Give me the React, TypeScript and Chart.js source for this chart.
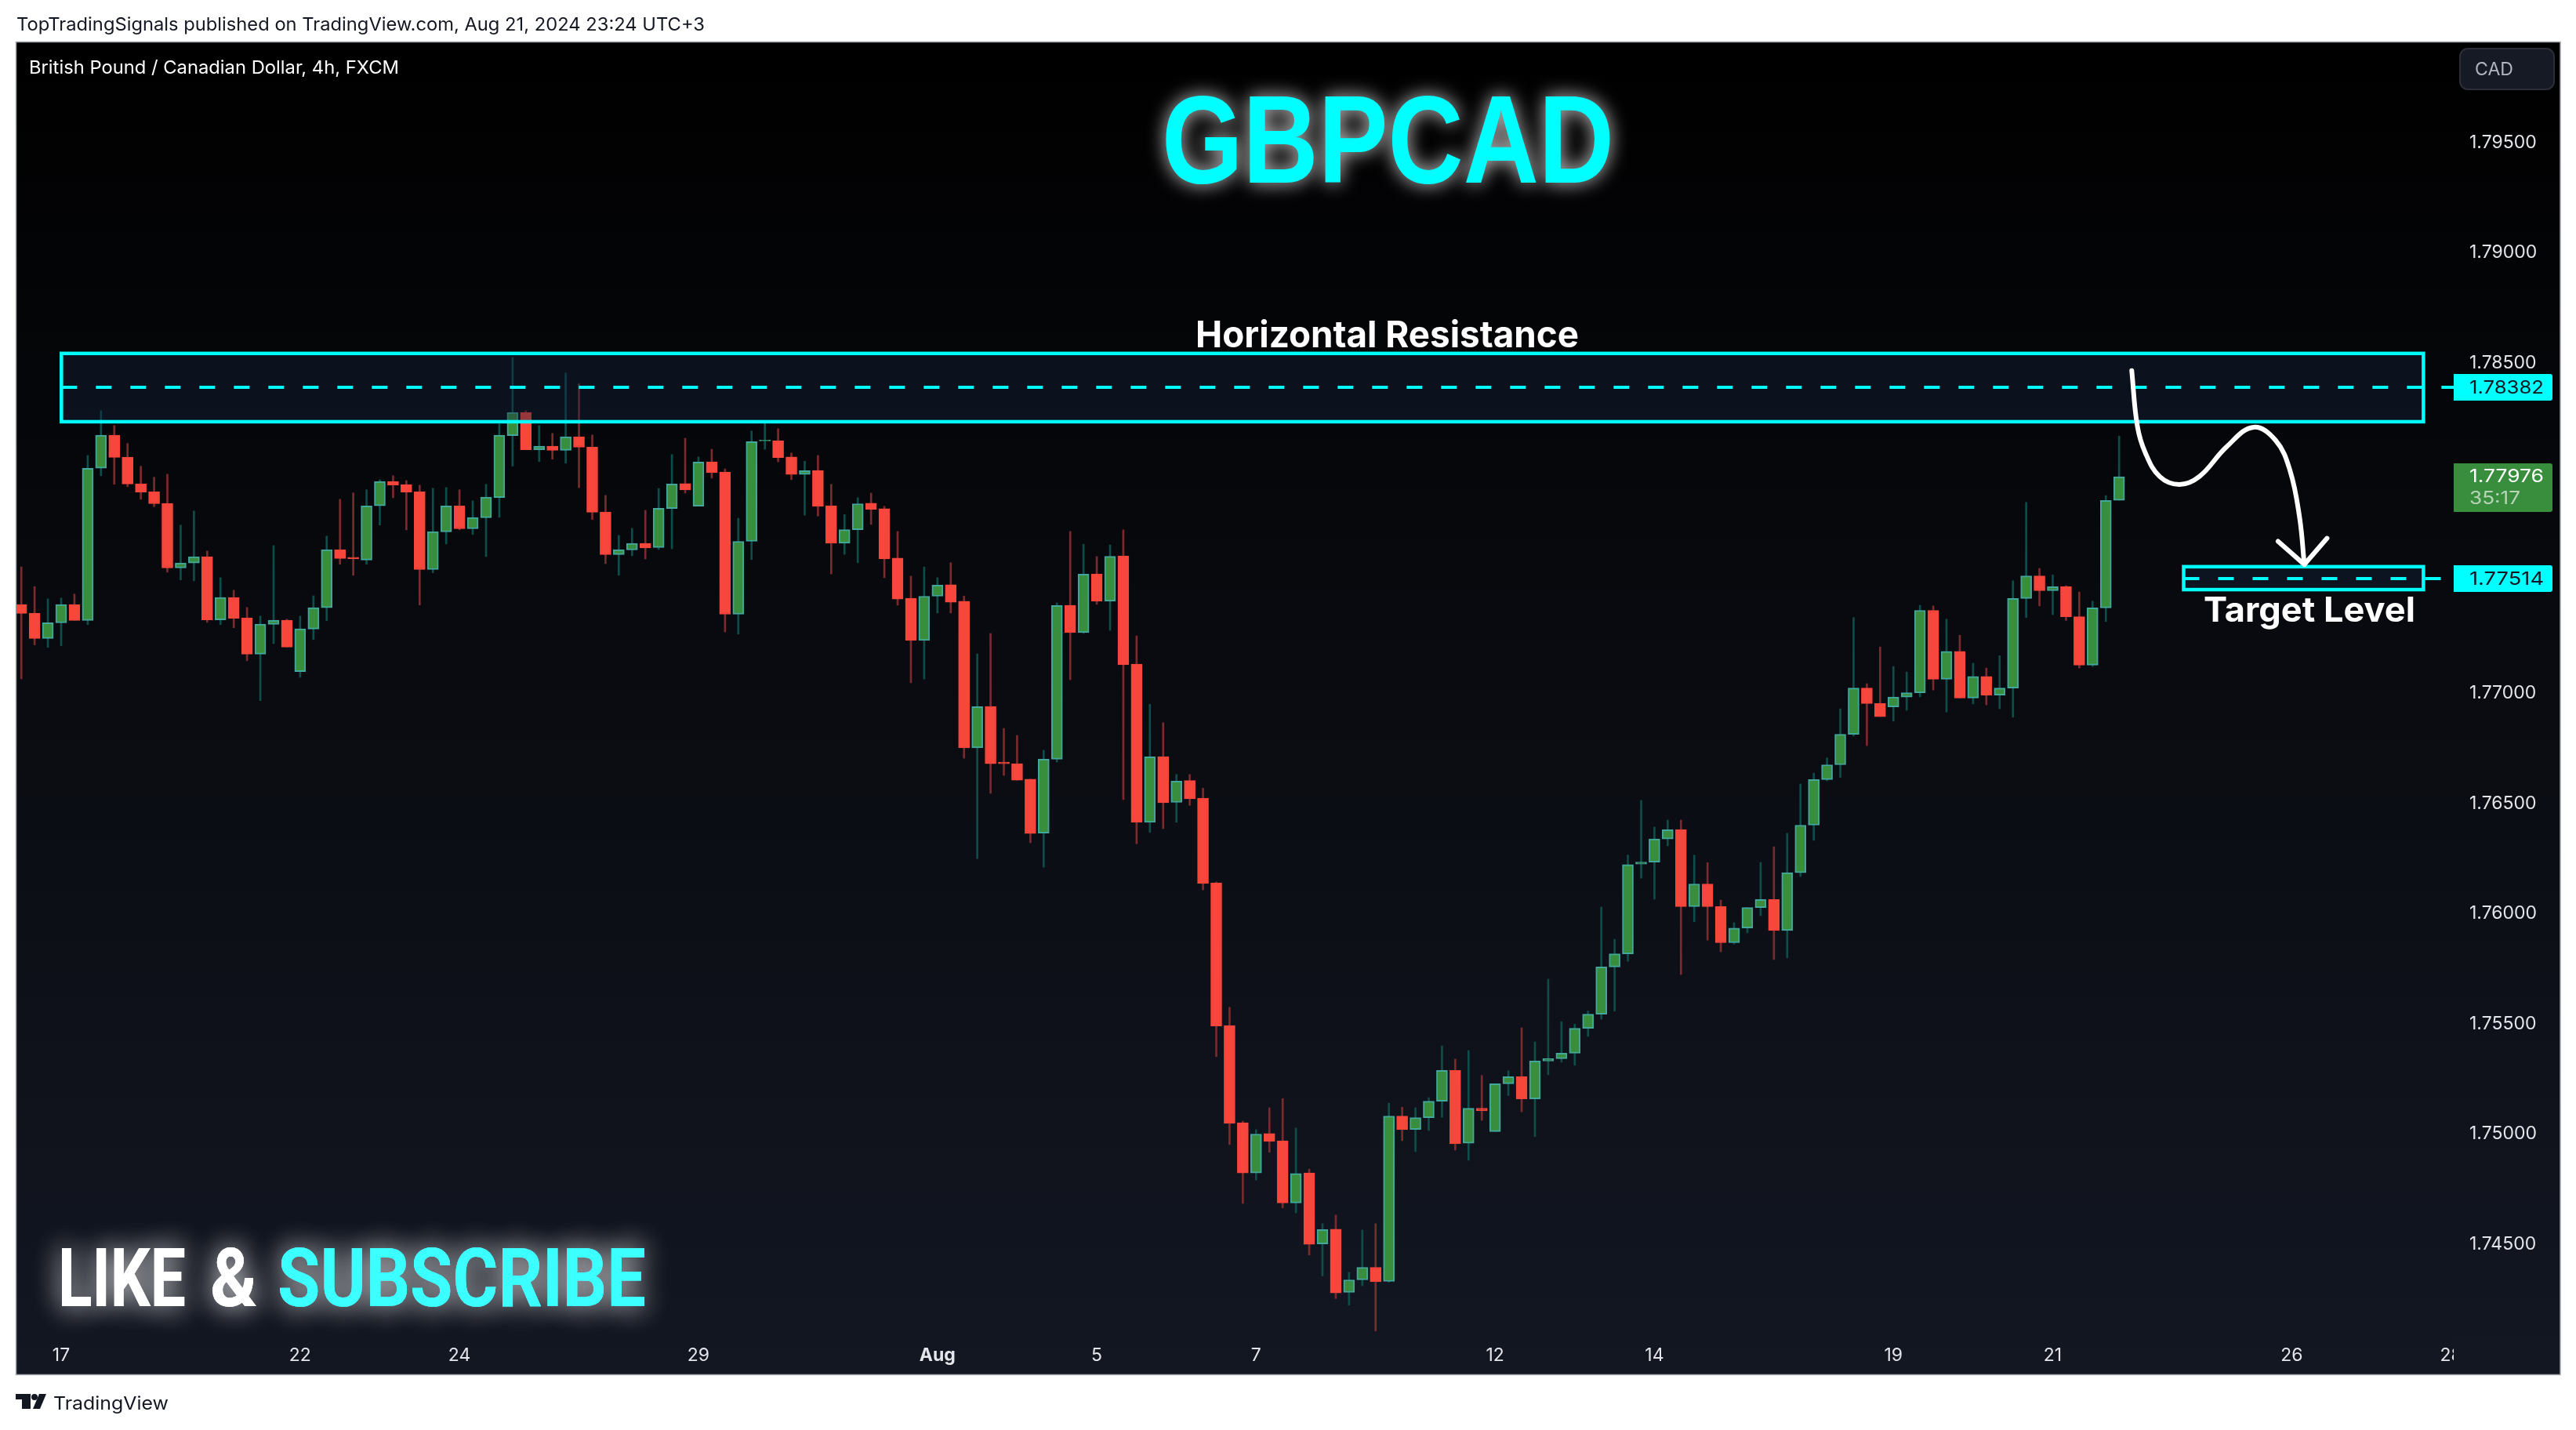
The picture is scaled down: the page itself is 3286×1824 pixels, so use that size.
import React, { useRef, useEffect } from 'react';
import { Chart, registerables } from 'chart.js';

Chart.register(...registerables);

const opens = [
  1.77396, 1.77357, 1.77242, 1.77313, 1.77396, 1.77324, 1.78015, 1.78165, 1.78065, 1.77944,
  1.77908, 1.77855, 1.77562, 1.77585, 1.77613, 1.77327, 1.77428, 1.77336, 1.77171, 1.77306,
  1.77325, 1.77092, 1.77285, 1.77382, 1.77645, 1.77611, 1.77598, 1.77844, 1.77955, 1.77941,
  1.77908, 1.77555, 1.77726, 1.77844, 1.77740, 1.77790, 1.77882, 1.78163, 1.78268, 1.78099,
  1.78115, 1.78096, 1.78158, 1.78111, 1.77816, 1.77623, 1.77644, 1.77674, 1.77655, 1.77832,
  1.77945, 1.77843, 1.78044, 1.77998, 1.77352, 1.77683, 1.78139, 1.78140, 1.78066, 1.77987,
  1.78005, 1.77845, 1.77674, 1.77736, 1.77856, 1.77831, 1.77607, 1.77425, 1.77233, 1.77434,
  1.77486, 1.77411, 1.76746, 1.76934, 1.76681, 1.76674, 1.76604, 1.76359, 1.76694, 1.77393,
  1.77269, 1.77535, 1.77411, 1.77617, 1.77126, 1.76408, 1.76706, 1.76498, 1.76597, 1.76517,
  1.76133, 1.75485, 1.75044, 1.74816, 1.74995, 1.74961, 1.74680, 1.74816, 1.74494, 1.74561,
  1.74274, 1.74331, 1.74388, 1.74324, 1.75074, 1.75014, 1.75067, 1.75142, 1.75282, 1.74951,
  1.75110, 1.75004, 1.75221, 1.75253, 1.75152, 1.75324, 1.75335, 1.75360, 1.75473, 1.75537,
  1.75751, 1.75811, 1.76218, 1.76227, 1.76332, 1.76374, 1.76025, 1.76128, 1.76025, 1.75861,
  1.75928, 1.76021, 1.76057, 1.75917, 1.76179, 1.76395, 1.76602, 1.76669, 1.76807, 1.77017,
  1.76947, 1.76932, 1.76976, 1.76996, 1.77370, 1.77057, 1.77184, 1.76972, 1.77070, 1.76985,
  1.77017, 1.77424, 1.77526, 1.77459, 1.77477, 1.77341, 1.77121, 1.77381, 1.77869,
];

const closes = [
  1.77356, 1.77242, 1.77314, 1.77396, 1.77324, 1.78015, 1.78165, 1.78064, 1.77943, 1.77907,
  1.77854, 1.77562, 1.77585, 1.77613, 1.77327, 1.77428, 1.77334, 1.77171, 1.77307, 1.77325,
  1.77203, 1.77286, 1.77382, 1.77645, 1.77605, 1.77604, 1.77844, 1.77955, 1.77939, 1.77907,
  1.77555, 1.77727, 1.77844, 1.77740, 1.77791, 1.77884, 1.78165, 1.78268, 1.78099, 1.78115,
  1.78096, 1.78158, 1.78110, 1.77815, 1.77623, 1.77645, 1.77674, 1.77653, 1.77833, 1.77943,
  1.77916, 1.78043, 1.77995, 1.77352, 1.77683, 1.78136, 1.78143, 1.78063, 1.77987, 1.78004,
  1.77842, 1.77674, 1.77736, 1.77854, 1.77828, 1.77603, 1.77421, 1.77233, 1.77434, 1.77484,
  1.77407, 1.76746, 1.76933, 1.76674, 1.76674, 1.76599, 1.76357, 1.76694, 1.77392, 1.77269,
  1.77534, 1.77411, 1.77615, 1.77123, 1.76408, 1.76705, 1.76497, 1.76595, 1.76514, 1.76130,
  1.75483, 1.75041, 1.74816, 1.74993, 1.74959, 1.74680, 1.74814, 1.74492, 1.74559, 1.74272,
  1.74331, 1.74388, 1.74322, 1.75074, 1.75013, 1.75067, 1.75142, 1.75282, 1.74949, 1.75110,
  1.75099, 1.75221, 1.75253, 1.75152, 1.75324, 1.75335, 1.75360, 1.75473, 1.75537, 1.75751,
  1.75811, 1.76216, 1.76227, 1.76332, 1.76374, 1.76025, 1.76128, 1.76025, 1.75861, 1.75928,
  1.76021, 1.76057, 1.75917, 1.76179, 1.76395, 1.76602, 1.76669, 1.76807, 1.77017, 1.76947,
  1.76887, 1.76976, 1.76996, 1.77370, 1.77057, 1.77184, 1.76972, 1.77070, 1.76985, 1.77017,
  1.77424, 1.77526, 1.77459, 1.77477, 1.77341, 1.77121, 1.77381, 1.77869, 1.77976,
];

const highs = [
  1.77567, 1.77478, 1.77422, 1.77426, 1.77444, 1.78073, 1.78276, 1.78209, 1.78127, 1.78024,
  1.77974, 1.77988, 1.77757, 1.77821, 1.77639, 1.77518, 1.77461, 1.77383, 1.77344, 1.77664,
  1.77330, 1.77344, 1.77436, 1.77707, 1.77874, 1.77903, 1.77917, 1.77963, 1.77981, 1.77959,
  1.77938, 1.77924, 1.77927, 1.77917, 1.77867, 1.77942, 1.78216, 1.78518, 1.78276, 1.78209,
  1.78173, 1.78447, 1.78399, 1.78166, 1.77892, 1.77710, 1.77742, 1.77824, 1.77923, 1.78077,
  1.78151, 1.78066, 1.78101, 1.78012, 1.77788, 1.78184, 1.78227, 1.78194, 1.78084, 1.78047,
  1.78073, 1.77942, 1.77805, 1.77881, 1.77902, 1.77842, 1.77728, 1.77525, 1.77567, 1.77518,
  1.77586, 1.77435, 1.77172, 1.77265, 1.76834, 1.76802, 1.76604, 1.76735, 1.77404, 1.77728,
  1.77670, 1.77614, 1.77667, 1.77735, 1.77254, 1.76944, 1.76860, 1.76625, 1.76625, 1.76563,
  1.76137, 1.75568, 1.75051, 1.75013, 1.75112, 1.75154, 1.75020, 1.74834, 1.74586, 1.74625,
  1.74365, 1.74557, 1.74586, 1.75133, 1.75115, 1.75112, 1.75158, 1.75393, 1.75333, 1.75372,
  1.75259, 1.75221, 1.75280, 1.75475, 1.75411, 1.75696, 1.75503, 1.75492, 1.75551, 1.76023,
  1.75877, 1.76259, 1.76507, 1.76386, 1.76418, 1.76418, 1.76259, 1.76225, 1.76055, 1.75952,
  1.76021, 1.76226, 1.76297, 1.76358, 1.76582, 1.76631, 1.76700, 1.76923, 1.77337, 1.77037,
  1.77204, 1.77115, 1.77090, 1.77393, 1.77390, 1.77330, 1.77257, 1.77130, 1.77108, 1.77164,
  1.77504, 1.77860, 1.77560, 1.77531, 1.77482, 1.77453, 1.77411, 1.77891, 1.78161,
];

const lows = [
  1.77059, 1.77213, 1.77202, 1.77209, 1.77324, 1.77305, 1.77981, 1.77942, 1.77931, 1.77874,
  1.77840, 1.77543, 1.77508, 1.77504, 1.77315, 1.77305, 1.77291, 1.77141, 1.76960, 1.77219,
  1.77203, 1.77066, 1.77237, 1.77323, 1.77579, 1.77529, 1.77579, 1.77757, 1.77881, 1.77735,
  1.77394, 1.77540, 1.77671, 1.77735, 1.77714, 1.77614, 1.77792, 1.78024, 1.78099, 1.78045,
  1.78056, 1.78038, 1.77927, 1.77782, 1.77582, 1.77529, 1.77618, 1.77603, 1.77646, 1.77649,
  1.77902, 1.77843, 1.77970, 1.77272, 1.77262, 1.77600, 1.78101, 1.78044, 1.77963, 1.77802,
  1.77798, 1.77535, 1.77624, 1.77586, 1.77760, 1.77518, 1.77393, 1.77041, 1.77058, 1.77358,
  1.77358, 1.76699, 1.76243, 1.76539, 1.76621, 1.76599, 1.76315, 1.76204, 1.76681, 1.77055,
  1.77265, 1.77397, 1.77279, 1.76511, 1.76311, 1.76362, 1.76379, 1.76408, 1.76485, 1.76101,
  1.75344, 1.74945, 1.74678, 1.74784, 1.74910, 1.74658, 1.74635, 1.74444, 1.74349, 1.74246,
  1.74216, 1.74304, 1.74099, 1.74320, 1.74963, 1.74913, 1.75009, 1.75069, 1.74920, 1.74874,
  1.75055, 1.75004, 1.75168, 1.75094, 1.74981, 1.75262, 1.75319, 1.75305, 1.75436, 1.75514,
  1.75551, 1.75777, 1.76154, 1.76059, 1.76301, 1.75717, 1.75956, 1.75873, 1.75820, 1.75855,
  1.75906, 1.75984, 1.75785, 1.75792, 1.76162, 1.76326, 1.76596, 1.76611, 1.76799, 1.76756,
  1.76887, 1.76867, 1.76916, 1.76977, 1.77008, 1.76908, 1.76972, 1.76945, 1.76941, 1.76923,
  1.76885, 1.77337, 1.77390, 1.77350, 1.77324, 1.77108, 1.77115, 1.77319, 1.77869,
];

const upBar = opens.map((o, i) => closes[i] >= o);

const yTicks = [1.745, 1.75, 1.755, 1.76, 1.765, 1.77, 1.775, 1.78, 1.785, 1.79, 1.795];
const xTickIndex = [3, 21, 33, 51, 69, 81, 93, 111, 123, 141, 153, 171, 183];
const xTickLabels = ['17', '22', '24', '29', 'Aug', '5', '7', '12', '14', '19', '21', '26', '28'];

// Drawn projection (bar index, price)
const pathBars = [158.95, 159.37, 159.96, 161.06, 162.54, 164.04, 166.09, 168.11, 169.79, 170.87, 171.59, 171.95];
const pathPrices = [1.78458, 1.78208, 1.78087, 1.77977, 1.77941, 1.77977, 1.78112, 1.78201, 1.78141, 1.78005, 1.77792, 1.77578];
const headBars = [169.97, 171.95, 173.66];
const headPrices = [1.77683, 1.77578, 1.77697];

const resistanceZone = { from: 3.02, to: 180.92, top: 1.78536, bottom: 1.78226, level: 1.78382 };
const targetZone = { from: 162.86, to: 180.92, top: 1.77568, bottom: 1.77464, level: 1.77514 };
const lastPrice = 1.77976;

const CYAN = '#00ffff';
const UP = '#388e3c';
const UP_EDGE = '#43a79c';
const DOWN = '#f7463c';
const UP_WICK = '#0f4d4a';
const DOWN_WICK = '#7b2b2e';
const SANS = 'Inter, "Liberation Sans", sans-serif';

// Text squeezed to the width it has in the picture
function fitText(ctx: CanvasRenderingContext2D, text: string, x: number, y: number, font: string, width: number) {
  ctx.save();
  ctx.font = font;
  ctx.textAlign = 'left';
  ctx.textBaseline = 'alphabetic';
  const w = ctx.measureText(text).width;
  ctx.translate(x, y);
  ctx.scale(width / w, 1);
  ctx.fillText(text, 0, 0);
  ctx.restore();
}

function drawZone(chart: any, zone: typeof targetZone) {
  const { ctx, scales, chartArea } = chart;
  const x0 = scales.x.getPixelForValue(zone.from);
  const x1 = scales.x.getPixelForValue(zone.to);
  const y0 = scales.y.getPixelForValue(zone.top);
  const y1 = scales.y.getPixelForValue(zone.bottom);
  const yl = scales.y.getPixelForValue(zone.level);
  ctx.save();
  ctx.fillStyle = 'rgba(21, 36, 60, 0.42)';
  ctx.fillRect(x0, y0, x1 - x0, y1 - y0);
  ctx.strokeStyle = CYAN;
  ctx.lineWidth = 4.5;
  ctx.strokeRect(x0, y0, x1 - x0, y1 - y0);
  ctx.lineWidth = 4;
  ctx.setLineDash([20, 24]);
  ctx.beginPath();
  ctx.moveTo(x0, yl);
  ctx.lineTo(chartArea.right, yl);
  ctx.stroke();
  ctx.restore();
}

function priceTag(chart: any, price: number, color: string) {
  const { ctx, scales, chartArea } = chart;
  const y = Math.round(scales.y.getPixelForValue(price));
  ctx.save();
  ctx.fillStyle = color;
  ctx.beginPath();
  ctx.roundRect(chartArea.right, y - 17, 126, 34, [0, 3, 3, 0]);
  ctx.fill();
  ctx.fillStyle = '#131722';
  fitText(ctx, price.toFixed(5), 3150, y + 8, `23px ${SANS}`, 95);
  ctx.restore();
}

const backdrop = {
  id: 'backdrop',
  beforeDraw(chart: any) {
    const { ctx, width, height } = chart;
    ctx.save();
    ctx.fillStyle = '#ffffff';
    ctx.fillRect(0, 0, width, height);
    const g = ctx.createLinearGradient(0, 54, 0, 1753);
    g.addColorStop(0, '#000000');
    g.addColorStop(1, '#131722');
    ctx.fillStyle = g;
    ctx.fillRect(21, 54, 3245, 1699);
    ctx.strokeStyle = '#a3a6ad';
    ctx.lineWidth = 1.5;
    ctx.strokeRect(20.5, 53.5, 3245.5, 1700);
    ctx.restore();
  },
  beforeDatasetsDraw(chart: any) {
    // the price axis strip cuts off the last date label
    const { ctx, chartArea } = chart;
    ctx.save();
    ctx.fillStyle = '#131722';
    ctx.fillRect(chartArea.right, chartArea.bottom, 135, 46);
    ctx.restore();
  },
  beforeDatasetDraw(chart: any, args: any) {
    // zones sit over the candles and under the drawn projection
    if (args.index === 1) {
      drawZone(chart, resistanceZone);
      drawZone(chart, targetZone);
    }
  },
  afterDraw(chart: any) {
    const { ctx } = chart;
    ctx.save();
    // Header and footer
    ctx.fillStyle = '#131722';
    fitText(ctx, 'TopTradingSignals published on TradingView.com, Aug 21, 2024 23:24 UTC+3', 21, 39, `23px ${SANS}`, 878);
    fitText(ctx, 'TradingView', 68, 1798, `23px ${SANS}`, 147);
    ctx.fillRect(20, 1778, 19, 7);
    ctx.fillRect(28, 1778, 11, 19);
    ctx.beginPath();
    ctx.arc(44, 1782, 4, 0, Math.PI * 2);
    ctx.fill();
    ctx.beginPath();
    ctx.moveTo(50, 1778);
    ctx.lineTo(59, 1778);
    ctx.lineTo(51, 1797);
    ctx.lineTo(42, 1797);
    ctx.closePath();
    ctx.fill();

    // Legend and currency badge
    ctx.fillStyle = '#ffffff';
    fitText(ctx, 'British Pound / Canadian Dollar, 4h, FXCM', 37, 94, `23px ${SANS}`, 472);
    ctx.fillStyle = '#161a25';
    ctx.strokeStyle = '#2a2e39';
    ctx.lineWidth = 2;
    ctx.beginPath();
    ctx.roundRect(3138, 62, 120, 52, 10);
    ctx.fill();
    ctx.stroke();
    ctx.fillStyle = '#b2b5be';
    fitText(ctx, 'CAD', 3157, 96, `23px ${SANS}`, 49);

    // Headline with its glow
    ctx.save();
    ctx.shadowColor = 'rgba(255, 255, 255, 0.8)';
    ctx.shadowBlur = 24;
    ctx.fillStyle = CYAN;
    fitText(ctx, 'GBPCAD', 1482, 233, 'bold 160px "Liberation Sans", sans-serif', 577);
    ctx.restore();

    // Notes on the chart
    ctx.fillStyle = '#ffffff';
    fitText(ctx, 'Horizontal Resistance', 1525, 443, `bold 47px ${SANS}`, 489);
    fitText(ctx, 'Target Level', 2811, 793, `bold 44px ${SANS}`, 270);

    // Call to action
    ctx.save();
    ctx.shadowColor = 'rgba(255, 255, 255, 0.5)';
    ctx.shadowBlur = 34;
    const cta = `bold 103px Roboto, ${SANS}`;
    for (let pass = 0; pass < 2; pass++) {
      ctx.fillStyle = '#ffffff';
      fitText(ctx, 'LIKE', 74, 1666, cta, 163);
      fitText(ctx, '&', 268, 1666, cta, 60);
      ctx.fillStyle = '#3cffff';
      fitText(ctx, 'SUBSCRIBE', 354, 1666, cta, 470);
    }
    ctx.restore();

    // Level tags and the last-price tag
    priceTag(chart, resistanceZone.level, CYAN);
    priceTag(chart, targetZone.level, CYAN);
    ctx.fillStyle = UP;
    ctx.beginPath();
    ctx.roundRect(3130, 591, 126, 62, [0, 3, 3, 0]);
    ctx.fill();
    ctx.fillStyle = '#ffffff';
    fitText(ctx, lastPrice.toFixed(5), 3150, 615, `23px ${SANS}`, 95);
    ctx.fillStyle = '#b7d4b9';
    fitText(ctx, '35:17', 3150, 643, `23px ${SANS}`, 65);
    ctx.restore();
  },
};

const App: React.FC = () => {
  const chartRef = useRef<HTMLCanvasElement>(null);
  const chartInstance = useRef<Chart | null>(null);

  useEffect(() => {
    if (!chartRef.current) return;
    const ctx = chartRef.current.getContext('2d');
    if (!ctx) return;

    const bodies = opens.map((o, i) => ({ x: i, y: [o, closes[i]] }));
    const wicks = highs.map((h, i) => ({ x: i, y: [lows[i], h] }));

    chartInstance.current = new Chart(ctx, {
      type: 'bar',
      data: {
        datasets: [
          // Arrow head
          {
            type: 'line',
            data: headBars.map((x, i) => ({ x, y: headPrices[i] })),
            borderColor: '#ffffff',
            borderWidth: 6,
            borderCapStyle: 'round',
            borderJoinStyle: 'round',
            pointRadius: 0,
            order: 0,
          },
          // Projected path
          {
            type: 'line',
            data: pathBars.map((x, i) => ({ x, y: pathPrices[i] })),
            borderColor: '#ffffff',
            borderWidth: 6,
            borderCapStyle: 'round',
            tension: 0.4,
            pointRadius: 0,
            order: 1,
          },
          {
            type: 'bar',
            data: bodies,
            backgroundColor: upBar.map((u) => (u ? UP : DOWN)),
            borderColor: upBar.map((u) => (u ? UP_EDGE : DOWN)),
            borderWidth: 2,
            borderSkipped: false,
            barThickness: 14,
            grouped: false,
            order: 2,
          },
          {
            type: 'bar',
            data: wicks,
            backgroundColor: upBar.map((u) => (u ? UP_WICK : DOWN_WICK)),
            barThickness: 2,
            grouped: false,
            order: 3,
          },
        ],
      } as any,
      options: {
        responsive: false,
        devicePixelRatio: 1,
        animation: false,
        events: [],
        layout: { padding: { left: 21, top: 54, right: 20, bottom: 71 } },
        plugins: { legend: { display: false }, tooltip: { enabled: false } },
        scales: {
          x: {
            type: 'linear',
            offset: false,
            min: -0.366,
            max: 183.2,
            grid: { display: false, drawTicks: false },
            border: { display: false },
            afterBuildTicks: (scale: any) => {
              scale.ticks = xTickIndex.map((value) => ({ value }));
            },
            afterFit: (scale: any) => {
              scale.height = 48;
            },
            ticks: {
              autoSkip: false,
              maxRotation: 0,
              padding: 10,
              color: '#e3e5ea',
              font: (c: any) => ({
                family: SANS,
                size: 23,
                weight: c.index === 4 ? 'bold' : 'normal',
              }),
              callback: (_v: any, i: number) => xTickLabels[i],
            },
          },
          y: {
            position: 'right',
            min: 1.74073,
            max: 1.79948,
            grid: { display: false, drawTicks: false },
            border: { display: false },
            afterBuildTicks: (scale: any) => {
              scale.ticks = yTicks.map((value) => ({ value }));
            },
            afterFit: (scale: any) => {
              scale.width = 136;
            },
            ticks: {
              autoSkip: false,
              padding: 20,
              labelOffset: 2,
              color: '#e3e5ea',
              font: { family: SANS, size: 23 },
              callback: (v: any) => Number(v).toFixed(5),
            },
          },
        },
      },
      plugins: [backdrop],
    });

    return () => {
      if (chartInstance.current) {
        chartInstance.current.destroy();
      }
    };
  }, []);

  return (
    <div style={{ position: 'absolute', left: 0, top: 0, width: 3286, height: 1824 }}>
      <canvas ref={chartRef} width={3286} height={1824} style={{ display: 'block', width: 3286, height: 1824 }}></canvas>
    </div>
  );
};

export default App;
